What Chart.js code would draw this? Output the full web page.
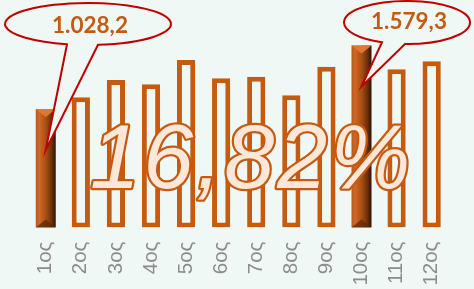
<!DOCTYPE html>
<html>
<head>
<meta charset="utf-8">
<script src="https://cdn.jsdelivr.net/npm/chart.js"></script>
<style>
  html, body { margin: 0; padding: 0; background: #f0f8f5; }
  #wrap { width: 474px; height: 289px; overflow: hidden; }
</style>
</head>
<body>
<div id="wrap"><canvas id="chart" width="474" height="289"></canvas></div>
<script>
// data
const months = ["1ος", "2ος", "3ος", "4ος", "5ος", "6ος", "7ος", "8ος", "9ος", "10ος", "11ος", "12ος"];
const values = [1028.2, 1130, 1280, 1243, 1454, 1295, 1309, 1148, 1396, 1579.3, 1373, 1443];
const highlighted = [0, 9]; // the two dark bars with callouts
const bigLabel = "16,82%";

const BG = '#f0f8f5';
const ORANGE = '#c55a11';

// callout bubble shapes (pixels), tied to the highlighted bars
const calloutShapes = [
  { index: 0, cx: 88, cy: 24, rx: 83, ry: 21, baseL: -21, baseR: 10, textY: 26 },
  { index: 9, cx: 407, cy: 22.5, rx: 63, ry: 21.5, baseL: -25, baseR: -2, textY: 22 }
];

function formatGreek(v) {
  const parts = v.toFixed(1).split('.');
  const intPart = parts[0].replace(/\B(?=(\d{3})+(?!\d))/g, '.');
  return intPart + ',' + parts[1];
}

const filledData = values.map((v, i) => highlighted.includes(i) ? v : null);
const outlineData = values.map((v, i) => highlighted.includes(i) ? null : v);

function barGradient(context) {
  const chart = context.chart;
  const xs = chart.scales.x;
  if (!xs || context.dataIndex === undefined) return '#a04a10';
  const cx = xs.getPixelForValue(context.dataIndex);
  const half = (xs.width / months.length) * 0.57 / 2;
  if (!isFinite(cx) || !isFinite(half) || half <= 0) return '#a04a10';
  const g = chart.ctx.createLinearGradient(cx - half, 0, cx + half, 0);
  g.addColorStop(0, '#b9581a');
  g.addColorStop(0.18, '#cf6826');
  g.addColorStop(0.5, '#a94f12');
  g.addColorStop(0.8, '#6b2f09');
  g.addColorStop(1, '#2b1204');
  return g;
}

const backgroundPlugin = {
  id: 'bg',
  beforeDraw(chart) {
    const ctx = chart.ctx;
    ctx.save();
    ctx.fillStyle = BG;
    ctx.fillRect(0, 0, chart.width, chart.height);
    ctx.restore();
  }
};

const bevelPlugin = {
  id: 'bevel',
  afterDatasetsDraw(chart) {
    const ctx = chart.ctx;
    const meta = chart.getDatasetMeta(0);
    ctx.save();
    highlighted.forEach((i) => {
      const el = meta.data[i];
      if (!el) return;
      const { x, y, base, width } = el.getProps(['x', 'y', 'base', 'width'], true);
      const l = x - width / 2, r = x + width / 2;
      // top bevel
      ctx.fillStyle = '#de7935';
      ctx.beginPath();
      ctx.moveTo(l, y);
      ctx.lineTo(r, y);
      ctx.lineTo(x, y + 8);
      ctx.closePath();
      ctx.fill();
      // bottom bevel
      ctx.fillStyle = 'rgba(90, 40, 8, 0.75)';
      ctx.beginPath();
      ctx.moveTo(l, base);
      ctx.lineTo(r, base);
      ctx.lineTo(x, base - 8);
      ctx.closePath();
      ctx.fill();
    });
    ctx.restore();
  }
};

const bigTextPlugin = {
  id: 'bigText',
  afterDatasetsDraw(chart) {
    const ctx = chart.ctx;
    const area = chart.chartArea;
    ctx.save();
    ctx.font = 'italic 90px "Liberation Sans"';
    ctx.letterSpacing = '3px';
    ctx.textAlign = 'center';
    ctx.textBaseline = 'alphabetic';
    ctx.lineJoin = 'round';
    const x = (area.left + area.right) / 2 + 13;
    const y = 188;
    ctx.strokeStyle = ORANGE;
    ctx.lineWidth = 4.5;
    ctx.strokeText(bigLabel, x, y);
    ctx.fillStyle = '#fde7d8';
    ctx.fillText(bigLabel, x, y);
    ctx.restore();
  }
};

const calloutPlugin = {
  id: 'callouts',
  afterDraw(chart) {
    const ctx = chart.ctx;
    const xs = chart.scales.x;
    const ys = chart.scales.y;
    ctx.save();
    calloutShapes.forEach((c) => {
      const tipX = xs.getPixelForValue(c.index);
      const tipY = ys.getPixelForValue(values[c.index]) + 41;
      const tL = Math.acos((c.baseL) / c.rx);
      const tR = Math.acos((c.baseR) / c.rx);
      ctx.beginPath();
      ctx.ellipse(c.cx, c.cy, c.rx, c.ry, 0, tR, tL, true);
      ctx.lineTo(tipX, tipY);
      ctx.closePath();
      ctx.fillStyle = BG;
      ctx.fill();
      ctx.strokeStyle = '#c00000';
      ctx.lineWidth = 2;
      ctx.lineJoin = 'miter';
      ctx.stroke();

      ctx.fillStyle = ORANGE;
      ctx.font = 'bold 22.5px Lato';
      ctx.textAlign = 'center';
      ctx.textBaseline = 'middle';
      ctx.fillText(formatGreek(values[c.index]), c.cx + 2, c.textY);
    });
    ctx.restore();
  }
};

new Chart(document.getElementById('chart'), {
  type: 'bar',
  data: {
    labels: months,
    datasets: [
      {
        data: filledData,
        backgroundColor: barGradient,
        borderWidth: 0,
        barPercentage: 0.57,
        categoryPercentage: 1,
        grouped: false
      },
      {
        data: outlineData,
        backgroundColor: BG,
        borderColor: ORANGE,
        borderWidth: 5,
        borderSkipped: false,
        barPercentage: 0.52,
        categoryPercentage: 1,
        grouped: false
      }
    ]
  },
  options: {
    responsive: false,
    animation: false,
    layout: { padding: { left: 28.2, right: 24.8, top: 0, bottom: 0 } },
    plugins: {
      legend: { display: false },
      tooltip: { enabled: false }
    },
    scales: {
      x: {
        offset: true,
        grid: { display: false, drawTicks: false },
        border: { display: false },
        ticks: {
          color: '#8c8c8c',
          font: { family: '"Liberation Sans"', size: 20.5 },
          minRotation: 90,
          maxRotation: 90,
          autoSkip: false,
          padding: 14
        },
        afterFit(scale) { scale.height = 61.5; }
      },
      y: {
        display: false,
        min: 0,
        max: 1975
      }
    }
  },
  plugins: [backgroundPlugin, bevelPlugin, bigTextPlugin, calloutPlugin]
});
</script>
</body>
</html>
